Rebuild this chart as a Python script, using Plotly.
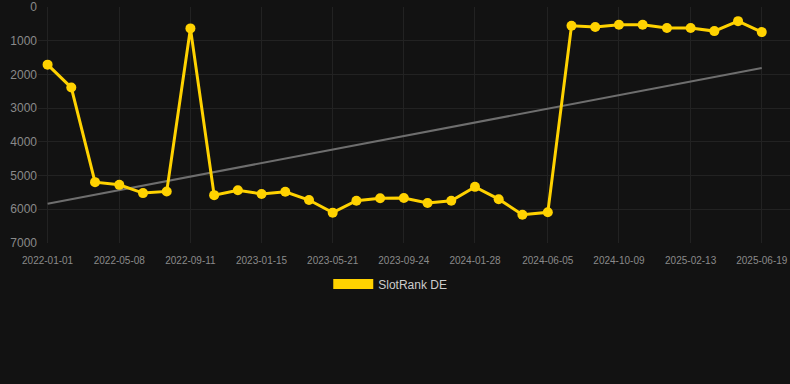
import plotly.graph_objects as go

dates = [
    "2022-01-01", "2022-02-12", "2022-03-26", "2022-05-08", "2022-06-19", "2022-07-31",
    "2022-09-11", "2022-10-23", "2022-12-04", "2023-01-15", "2023-02-26", "2023-04-09",
    "2023-05-21", "2023-07-02", "2023-08-13", "2023-09-24", "2023-11-05", "2023-12-17",
    "2024-01-28", "2024-03-10", "2024-04-21", "2024-06-05", "2024-07-17", "2024-08-28",
    "2024-10-09", "2024-11-20", "2025-01-02", "2025-02-13", "2025-03-27", "2025-05-08",
    "2025-06-19",
]
rank_de = [
    1710, 2390, 5195, 5275, 5520, 5470,
    635, 5580, 5435, 5545, 5480, 5725,
    6100, 5745, 5675, 5665, 5815, 5745,
    5335, 5700, 6160, 6090,
    555, 595, 525, 525, 625, 625, 715, 420, 745,
]
trend_dates = ["2022-01-01", "2025-06-19"]
trend_values = [5835, 1810]

tick_dates = [
    "2022-01-01", "2022-05-08", "2022-09-11", "2023-01-15", "2023-05-21", "2023-09-24",
    "2024-01-28", "2024-06-05", "2024-10-09", "2025-02-13", "2025-06-19",
]
y_ticks = [0, 1000, 2000, 3000, 4000, 5000, 6000, 7000]

YELLOW = "#FFD200"
BG = "#121212"
GRID = "#222222"
TICK = "#8a8a8a"

fig = go.Figure()
fig.add_trace(go.Scatter(
    x=trend_dates, y=trend_values, mode="lines",
    line=dict(color="#6e6e6e", width=2), showlegend=False, hoverinfo="skip",
))
fig.add_trace(go.Scatter(
    x=dates, y=rank_de, mode="lines+markers", name="SlotRank DE",
    line=dict(color=YELLOW, width=3),
    marker=dict(color=YELLOW, size=10),
    showlegend=False,
))
fig.add_trace(go.Scatter(
    x=[None], y=[None], mode="lines", name="SlotRank DE",
    line=dict(color=YELLOW, width=11),
    showlegend=True,
))

fig.update_layout(
    width=790, height=384,
    paper_bgcolor=BG, plot_bgcolor=BG,
    margin=dict(l=38, r=0, t=6.5, b=141),
    font=dict(family="Liberation Sans, Arial, sans-serif", color=TICK),
    showlegend=True,
    legend=dict(
        orientation="h", x=0.494, xanchor="center", xref="container",
        y=(384 - 284) / 384, yanchor="middle", yref="container",
        font=dict(size=12, color="#cccccc"),
        itemwidth=40, bgcolor="rgba(0,0,0,0)",
    ),
    xaxis=dict(
        type="date",
        range=["2021-12-15", "2025-08-08"],
        tickvals=tick_dates, ticktext=tick_dates,
        showgrid=True, gridcolor=GRID, gridwidth=1,
        zeroline=False, showline=False,
        ticks="outside", ticklen=8, tickcolor=BG,
        tickfont=dict(size=10, color=TICK),
    ),
    yaxis=dict(
        range=[7000, 0],
        tickvals=y_ticks,
        showgrid=True, gridcolor=GRID, gridwidth=1,
        zeroline=False, showline=False,
        tickfont=dict(size=12, color=TICK),
    ),
)

fig.write_html(
    "out.html",
    config={"displayModeBar": False},
    post_script="document.body.style.margin='0';document.body.style.background='#121212';",
)
